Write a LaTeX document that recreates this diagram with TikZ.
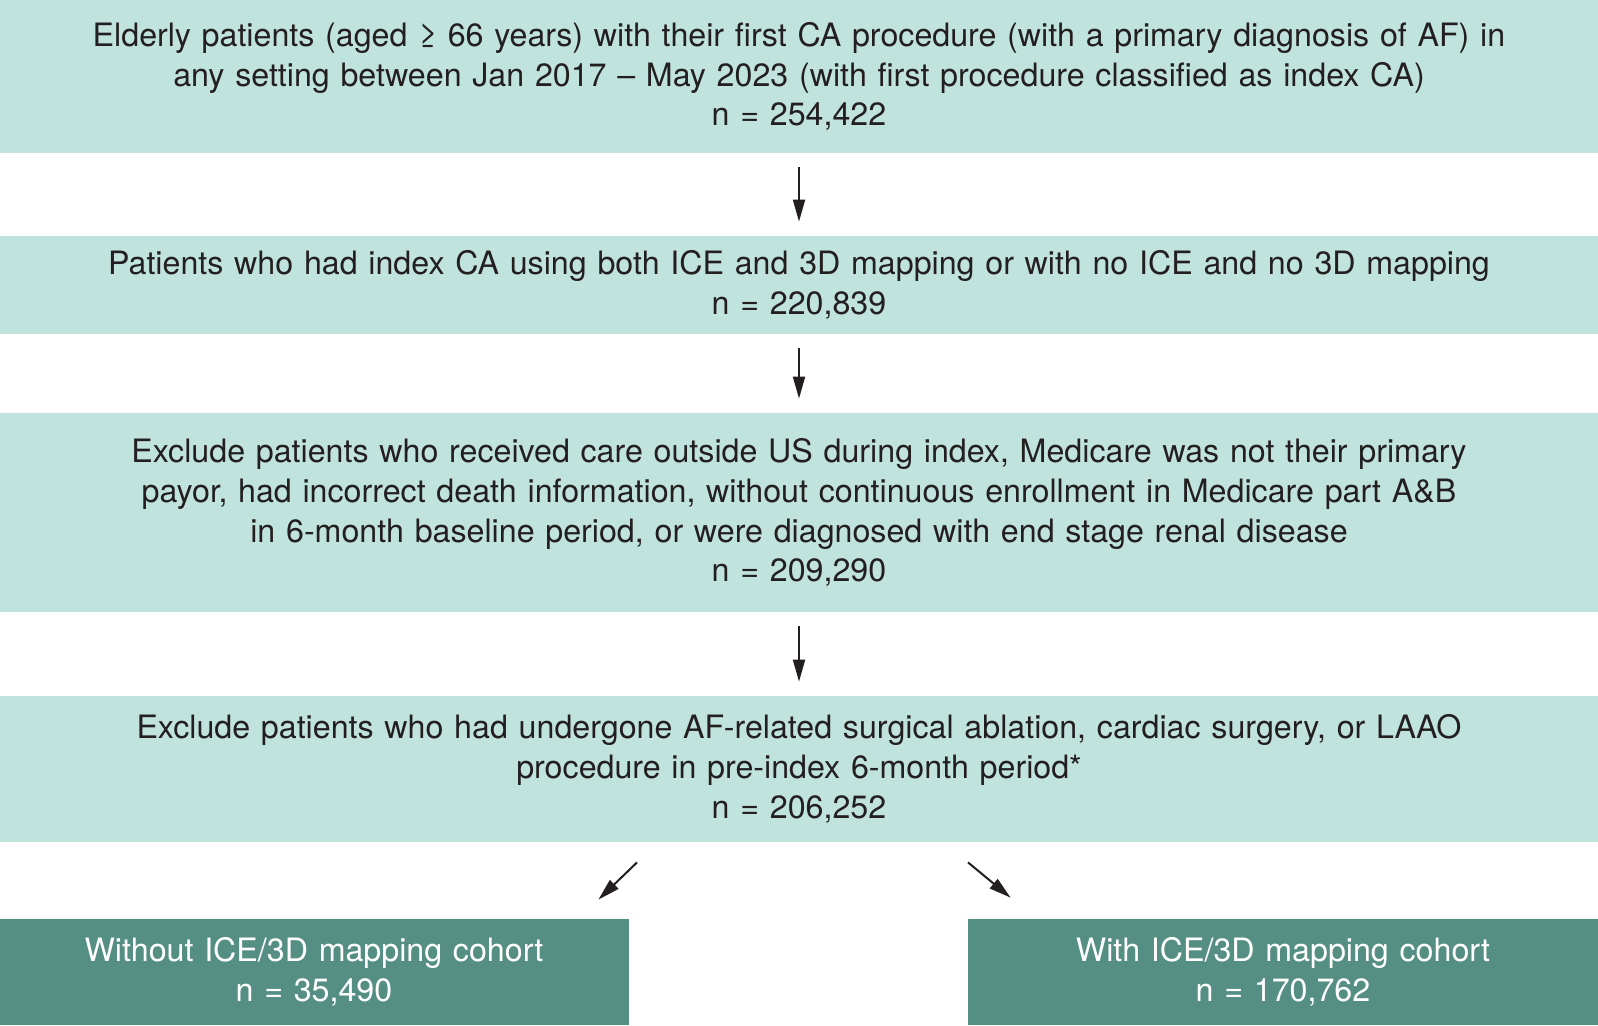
\documentclass[tikz,border=0pt]{standalone}
\usepackage{fontspec}
\setmainfont{TeX Gyre Heros}
\usepackage{xcolor}
\usepackage{tikz}
\usetikzlibrary{arrows.meta,positioning,calc}

\definecolor{boxlight}{HTML}{C1E3DD}
\definecolor{boxdark}{HTML}{558F84}
\definecolor{txt}{HTML}{231F20}

\begin{document}
\begin{tikzpicture}[x=0.5pt,y=-0.5pt,
  every node/.style={font=\fontsize{16.1}{19.9}\selectfont,text=txt,inner sep=0pt,align=center},
  lbox/.style={fill=boxlight,minimum width=799pt,text width=780pt},
  dbox/.style={fill=boxdark,text=white,minimum width=315pt,minimum height=53pt,text width=300pt},
  arr/.style={-{Triangle[length=11pt,width=6pt]},line width=1pt,draw=txt,shorten <=7pt,shorten >=7pt}]
  \useasboundingbox (0,0) rectangle (1598,1025);
  % study population
  \node[lbox,minimum height=76.5pt] (pop) at (799,76.5)
    {Elderly patients (aged ≥ 66 years) with their first CA procedure (with a primary diagnosis of AF) in\\
     any setting between Jan 2017 -- May 2023 (with first procedure classified as index CA)\\
     n = 254,422};
  \node[lbox,minimum height=49pt] (ice) at (799,285)
    {Patients who had index CA using both ICE and 3D mapping or with no ICE and no 3D mapping\\
     n = 220,839};
  \node[lbox,minimum height=99.5pt] (excl1) at (799,512.5)
    {Exclude patients who received care outside US during index, Medicare was not their primary\\
     payor, had incorrect death information, without continuous enrollment in Medicare part A\&B\\
     in 6-month baseline period, or were diagnosed with end stage renal disease\\
     n = 209,290};
  \node[lbox,minimum height=73pt] (excl2) at (799,769)
    {Exclude patients who had undergone AF-related surgical ablation, cardiac surgery, or LAAO\\
     procedure in pre-index 6-month period*\\
     n = 206,252};
  % cohorts
  \node[dbox] (without) at (314,972) {Without ICE/3D mapping cohort\\ n = 35,490};
  \node[dbox] (with) at (1283,972) {With ICE/3D mapping cohort\\ n = 170,762};
  \draw[arr] (pop) -- (ice);
  \draw[arr] (ice) -- (excl1);
  \draw[arr] (excl1) -- (excl2);
  \draw[arr,shorten <=0pt,shorten >=0pt] ([xshift=-81pt,yshift=-10pt]excl2.south) -- ([xshift=-15.5pt,yshift=9.5pt]without.north east);
  \draw[arr,shorten <=0pt,shorten >=0pt] ([xshift=84.5pt,yshift=-10pt]excl2.south) -- ([xshift=21.5pt,yshift=10.5pt]with.north west);
\end{tikzpicture}
\end{document}
